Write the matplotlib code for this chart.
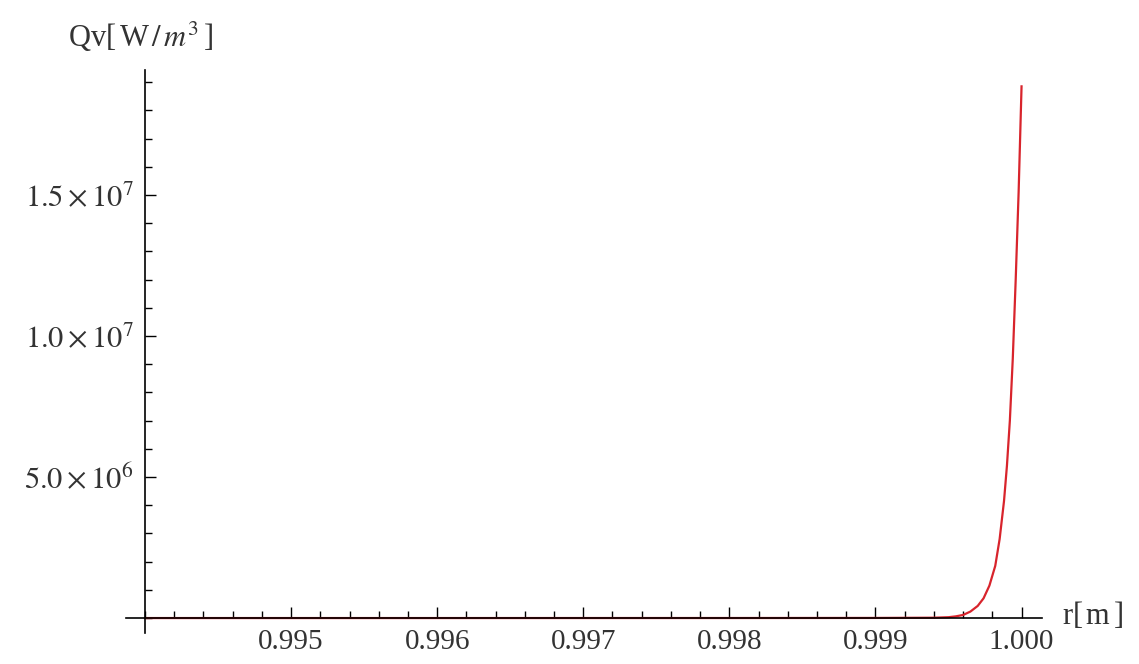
import matplotlib
matplotlib.use('Agg')
import matplotlib.pyplot as plt
from matplotlib.ticker import MultipleLocator, FixedLocator

plt.rcParams['font.family'] = ['Liberation Serif', 'DejaVu Serif']
plt.rcParams['mathtext.fontset'] = 'stix'

# values (r in m, Qv in W/m^3)
r_vals = [0.9940, 0.9960, 0.9980, 0.9990, 0.99940, 0.99950, 0.99955, 0.99960,
          0.99965, 0.99970, 0.99974, 0.99978, 0.99982, 0.99985, 0.99988,
          0.99990, 0.99992, 0.99994, 0.99996, 0.99998, 1.00000]
qv_vals = [0.0, 0.0, 0.001e6, 0.004e6, 0.012e6, 0.03e6, 0.06e6, 0.11e6,
           0.23e6, 0.43e6, 0.70e6, 1.15e6, 1.85e6, 2.8e6, 4.15e6,
           5.4e6, 7.0e6, 9.2e6, 12.0e6, 15.1e6, 18.85e6]

x_major = [0.995, 0.996, 0.997, 0.998, 0.999, 1.000]
x_labels = ['0.995', '0.996', '0.997', '0.998', '0.999', '1.000']
y_major = [5.0e6, 1.0e7, 1.5e7]
y_labels = [r'$5.0\times10^{6}$', r'$1.0\times10^{7}$', r'$1.5\times10^{7}$']

W, H = 1139, 664
fig = plt.figure(figsize=(W / 100, H / 100), dpi=100)
ax = fig.add_axes([126 / W, (H - 633) / H, (1042 - 126) / W, (633 - 70) / H])

ax.plot(r_vals, qv_vals, color='#d8242c', linewidth=1.6)

ax.set_xlim(0.99387, 1.00014)
ax.set_ylim(-0.53e6, 1.943e7)

for s in ['top', 'right']:
    ax.spines[s].set_visible(False)
ax.spines['left'].set_position(('data', 0.994))
ax.spines['bottom'].set_position(('data', 0))
for s in ['left', 'bottom']:
    ax.spines[s].set_linewidth(1.2)

ax.xaxis.set_major_locator(FixedLocator(x_major))
ax.set_xticklabels(x_labels)
ax.xaxis.set_minor_locator(MultipleLocator(0.0002))
ax.yaxis.set_major_locator(FixedLocator(y_major))
ax.set_yticklabels(y_labels)
ax.yaxis.set_minor_locator(MultipleLocator(1e6))

ax.tick_params(which='both', direction='in', colors='black', labelcolor='#333333',
               labelsize=22, width=1.0)
ax.tick_params(which='major', length=8, pad=8)
ax.tick_params(which='minor', length=5)
for lab in ax.get_xticklabels():
    lab.set_fontsize(21)

fig.text(68 / W, 1 - 37 / H, r'Qv[$\,$W$\,/\,m^{3}\,$]', fontsize=22, color='#333333',
         ha='left', va='center')
fig.text(1062 / W, 1 - 615 / H, r'r[$\,$m$\,$]', fontsize=22, color='#333333',
         ha='left', va='center')

fig.savefig('out.png', dpi=100)
